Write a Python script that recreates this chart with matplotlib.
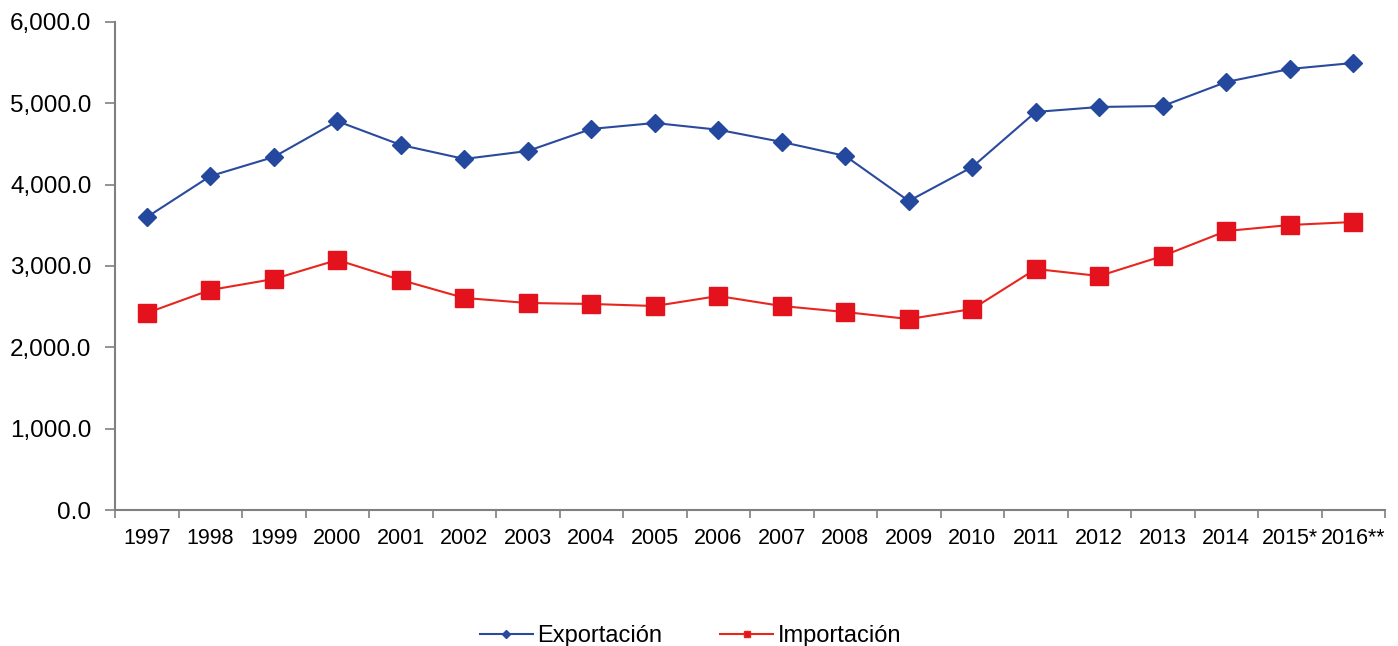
import matplotlib.pyplot as plt
from matplotlib.lines import Line2D
from matplotlib.ticker import FuncFormatter

years = ['1997', '1998', '1999', '2000', '2001', '2002', '2003', '2004', '2005', '2006',
         '2007', '2008', '2009', '2010', '2011', '2012', '2013', '2014', '2015*', '2016**']
exportacion = [3600, 4105, 4340, 4780, 4488, 4316, 4414, 4685, 4758, 4675,
               4525, 4353, 3799, 4217, 4894, 4955, 4967, 5262, 5422, 5496]
importacion = [2422, 2705, 2840, 3074, 2828, 2607, 2545, 2533, 2508, 2631,
               2508, 2434, 2348, 2471, 2963, 2877, 3123, 3430, 3504, 3541]

blue = '#2A4A9E'
red = '#E3121C'

plt.rcParams['font.family'] = ['Liberation Sans', 'DejaVu Sans']

fig = plt.figure(figsize=(13.98, 6.46), dpi=100)
ax = fig.add_axes([0.0823, 0.2105, 0.9084, 0.7555])

x = list(range(len(years)))
ax.plot(x, exportacion, color=blue, linewidth=1.5, marker='D', markersize=9.5,
        markerfacecolor='#23489E', markeredgecolor='#23489E')
ax.plot(x, importacion, color='#E8261E', linewidth=1.5, marker='s', markersize=12.5,
        markerfacecolor=red, markeredgecolor=red)

ax.set_xlim(-0.5, len(years) - 0.5)
ax.set_ylim(0, 6000)
ax.set_yticks(range(0, 6001, 1000))
ax.yaxis.set_major_formatter(FuncFormatter(lambda v, p: f'{v:,.1f}'))

ax.set_xticks([i - 0.5 for i in range(len(years) + 1)])
ax.set_xticklabels([])
ax.set_xticks(x, minor=True)
ax.set_xticklabels(years, minor=True)
ax.tick_params(axis='x', which='minor', length=0, labelsize=15.5, pad=13)
ax.tick_params(axis='x', which='major', length=6, width=1.2, color='#808080', direction='out')
ax.tick_params(axis='y', length=7, width=1.2, color='#808080', labelsize=17.5, pad=10)

for s in ['top', 'right']:
    ax.spines[s].set_visible(False)
for s in ['left', 'bottom']:
    ax.spines[s].set_color('#808080')
    ax.spines[s].set_linewidth(1.5)

handles = [
    Line2D([0], [0], color=blue, linewidth=1.5, marker='D', markersize=4, markerfacecolor=blue),
    Line2D([0], [0], color='#E8261E', linewidth=1.5, marker='s', markersize=5, markerfacecolor=red),
]
fig.legend(handles, ['Exportación', 'Importación'], loc='center', bbox_to_anchor=(0.494, 0.015),
           ncol=2, frameon=False, fontsize=17, handlelength=2.25, handletextpad=0.2,
           columnspacing=2.45)

fig.savefig('out.png', dpi=100)
